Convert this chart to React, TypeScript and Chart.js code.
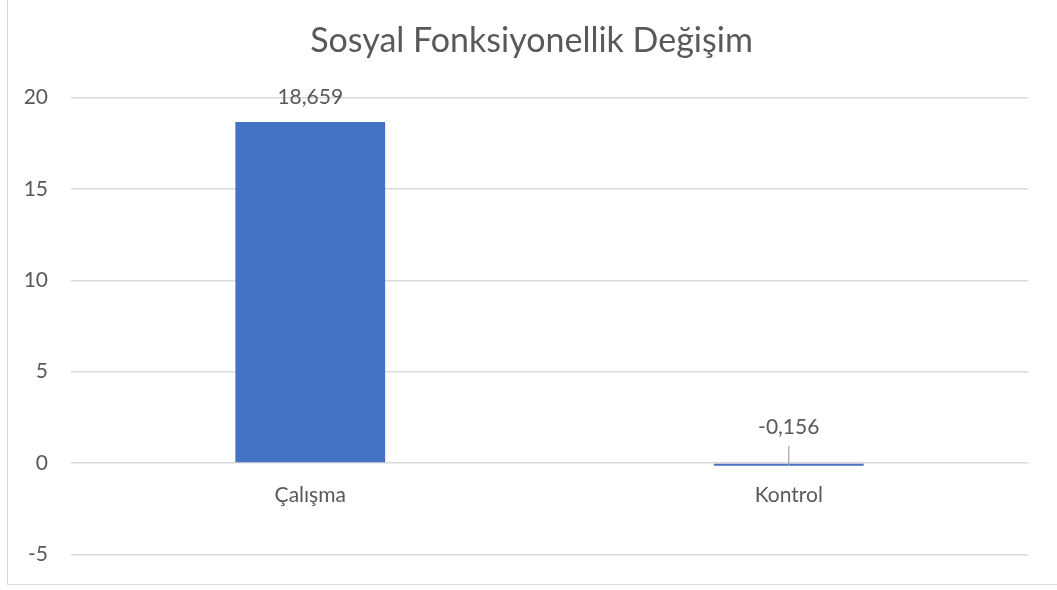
import React, { useEffect, useRef } from "react";
import { Chart, registerables } from "chart.js";

Chart.register(...registerables);

const TITLE = "Sosyal Fonksiyonellik Değişim";
const categories = ["Çalışma", "Kontrol"];
const values = [18.659, -0.156];
const yTicks = [-5, 0, 5, 10, 15, 20];

const TEXT = "#595959";
const GRID = "#D9D9D9";
const BAR = "#4472C4";
const FONT = "Lato";

const fmt = (v: number) => v.toFixed(3).replace(".", ",");

const labelsPlugin = {
  id: "excelLabels",
  afterDatasetsDraw(chart: any) {
    const ctx = chart.ctx;
    const xs = chart.scales.x;
    const ys = chart.scales.y;
    const y0 = ys.getPixelForValue(0);
    ctx.save();
    ctx.fillStyle = TEXT;
    // title
    ctx.font = `34px ${FONT}`;
    ctx.textAlign = "center";
    ctx.textBaseline = "alphabetic";
    ctx.fillText(TITLE, 531.5, 51.5);
    ctx.font = `21px ${FONT}`;
    ctx.textBaseline = "middle";
    categories.forEach((c, i) => {
      const x = xs.getPixelForValue(i);
      ctx.fillText(c, x, y0 + 32);
    });
    values.forEach((v, i) => {
      const x = xs.getPixelForValue(i);
      const yv = ys.getPixelForValue(v);
      if (v >= 0) {
        ctx.fillText(fmt(v), x, yv - 25);
      } else {
        ctx.fillText(fmt(v), x, y0 - 36);
        ctx.strokeStyle = "#A6A6A6";
        ctx.lineWidth = 1.2;
        ctx.beginPath();
        ctx.moveTo(x, y0 - 17);
        ctx.lineTo(x, yv);
        ctx.stroke();
      }
    });
    ctx.restore();
  },
};

export default function App() {
  const ref = useRef<HTMLCanvasElement | null>(null);
  useEffect(() => {
    if (!ref.current) return;
    const chart = new Chart(ref.current, {
      type: "bar",
      data: {
        labels: categories,
        datasets: [
          {
            data: values,
            backgroundColor: BAR,
            borderWidth: 0,
            categoryPercentage: 1,
            barPercentage: 0.313,
          },
        ],
      },
      options: {
        animation: false,
        responsive: false,
        maintainAspectRatio: false,
        layout: { padding: { left: 0, right: 29, top: 97.5, bottom: 32.5 } },
        plugins: {
          legend: { display: false },
          tooltip: { enabled: false },
          title: { display: false },
        },
        scales: {
          x: { display: false },
          y: {
            min: -5,
            max: 20,
            afterBuildTicks: (s: any) => {
              s.ticks = yTicks.map((v) => ({ value: v }));
            },
            afterFit: (s: any) => {
              s.width = 71;
            },
            border: { display: false },
            grid: { color: GRID, lineWidth: 1.5, drawTicks: false },
            ticks: {
              color: TEXT,
              font: { family: FONT, size: 21 },
              padding: 23,
              callback: (v: any) => String(v),
            },
          },
        },
      },
      plugins: [labelsPlugin],
    });
    return () => chart.destroy();
  }, []);
  return (
    <div style={{ position: "absolute", left: 0, top: 0, width: 1057, height: 590, background: "#fff", overflow: "hidden" }}>
      <div
        style={{
          position: "absolute",
          left: 7,
          top: -2,
          width: 1100,
          height: 587,
          borderLeft: `1.5px solid ${GRID}`,
          borderBottom: `1.5px solid ${GRID}`,
          boxSizing: "border-box",
        }}
      />
      <canvas ref={ref} width={1057} height={590} style={{ position: "absolute", left: 0, top: 0, width: 1057, height: 590 }} />
    </div>
  );
}
